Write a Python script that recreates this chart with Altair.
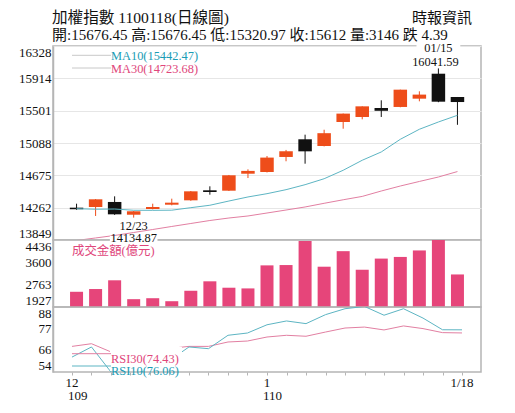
import altair as alt
import pandas as pd

# ---------------- data ----------------
dates = ["12/18", "12/21", "12/22", "12/23", "12/24", "12/25", "12/28", "12/29", "12/30", "12/31",
         "01/04", "01/05", "01/06", "01/07", "01/08", "01/11", "01/12", "01/13", "01/14", "01/15", "01/18"]
opens = [14262, 14271, 14335, 14172, 14245, 14300, 14356, 14484, 14479, 14696,
         14718, 14910, 15136, 15050, 15357, 15421, 15536, 15549, 15655, 15974, 15676.45]
highs = [14313, 14372, 14407, 14220, 14313, 14377, 14475, 14535, 14680, 14752,
         14922, 15000, 15195, 15258, 15465, 15557, 15634, 15770, 15749, 16041.59, 15676.45]
lows = [14235, 14156, 14170, 14134.87, 14240, 14292, 14350, 14428, 14475, 14641,
        14712, 14855, 14824, 15045, 15271, 15391, 15421, 15545, 15621, 15610, 15320.97]
closes = [14242, 14369, 14177, 14216, 14271, 14326, 14471, 14462, 14676, 14732,
          14902, 14983, 14982, 15214, 15464, 15557, 15500, 15770, 15707, 15616.39, 15612]
volumes = [2497, 2600, 2927, 2220, 2256, 2144, 2535, 2889, 2649, 2623,
           3486, 3498, 4398, 3436, 4018, 3322, 3740, 3802, 4045, 4436, 3146]
ma10 = [14249, 14242, 14245, 14229, 14228, 14230, 14262, 14293, 14347, 14399,
        14441, 14492, 14556, 14632, 14740, 14868, 14974, 15136, 15264, 15357, 15442.47]
ma30 = [13843, 13875, 13907, 13945, 13983, 14022, 14060, 14098, 14130, 14156,
        14194, 14232, 14271, 14318, 14363, 14406, 14475, 14539, 14597, 14654, 14723.68]
rsi10 = [61.8, 67.1, 54.0, 52.0, 56.0, 60.0, 67.1, 66.2, 73.2, 74.4,
         78.7, 80.7, 79.3, 84.0, 87.1, 88.3, 83.7, 87.1, 82.2, 76.1, 76.06]
rsi30 = [67.4, 68.8, 64.5, 64.0, 65.5, 66.3, 67.4, 67.4, 69.7, 70.2,
         72.3, 73.2, 72.7, 74.9, 77.0, 77.5, 76.0, 78.1, 76.7, 74.6, 74.43]

price_ticks = [13849, 14262, 14675, 15088, 15501, 15914, 16328]
vol_ticks = [1927, 2763, 3600, 4436]
rsi_ticks = [54, 66, 77, 88]

tick_idx = [0, 10, 20]
tick_line1 = ["12", "1", "1/18"]
tick_line2 = ["109", "110", ""]

title_text = "加權指數 1100118(日線圖)"
subtitle_text = "開:15676.45 高:15676.45 低:15320.97 收:15612 量:3146 跌 4.39"
source_text = "時報資訊"
vol_label = "成交金額(億元)"

# ---------------- styling ----------------
FONT = "'Liberation Serif', 'Times New Roman', 'Noto Sans CJK TC', serif"
UP = "#ee4d1a"
DOWN = "#111111"
VOL = "#e6457a"
TEAL_L = "#5db5c3"
PINK_L = "#e27fa2"
TEAL_T = "#1a9cb5"
PINK_T = "#e0467b"
BORDER = "#b5b5b5"
GRID = "#e6e6e6"
SAMPLE = "#c8c8c8"
TXT = "#111111"
FS = 12.4

W = 428
H1, H2, H3 = 194, 67, 65
n = len(dates)

df = pd.DataFrame({
    "i": list(range(n)), "date": dates, "open": opens, "high": highs, "low": lows,
    "close": closes, "vol": volumes, "ma10": ma10, "ma30": ma30,
    "rsi10": rsi10, "rsi30": rsi30,
})
df["dir"] = ["up" if c >= o else "down" for o, c in zip(opens, closes)]

xs = alt.Scale(domain=[-0.974, n - 1 + 0.974], nice=False, zero=False)
xenc = alt.X("i:Q", scale=xs, axis=None)
color = alt.Color("dir:N", scale=alt.Scale(domain=["up", "down"], range=[UP, DOWN]), legend=None)


def yaxis(vals, grid=False):
    return alt.Axis(values=vals, format="d", grid=grid, gridColor=GRID, gridWidth=1, ticks=False,
                    labelFlush=True, labelPadding=2, domainColor=BORDER, domainWidth=1.5,
                    title=None, labelFontSize=13, labelColor=TXT, labelFont=FONT)


def txt(text, x, y, size=13, col=TXT, align="left"):
    return alt.Chart(pd.DataFrame({"t": [text]})).mark_text(
        align=align, baseline="alphabetic", fontSize=size, color=col, font=FONT
    ).encode(text="t:N", x=alt.value(x), y=alt.value(y))


def sample(y, col):
    return alt.Chart(pd.DataFrame({"k": [0]})).mark_rule(color=col, strokeWidth=1).encode(
        x=alt.value(19), x2=alt.value(58), y=alt.value(y))


# ---------------- price panel ----------------
pscale = alt.Scale(domain=[price_ticks[0], price_ticks[-1]], nice=False, zero=False)
pax = yaxis(price_ticks, grid=True)
base = alt.Chart(df).encode(x=xenc)

wick = base.mark_rule(strokeWidth=1).encode(
    y=alt.Y("low:Q", scale=pscale, axis=pax), y2="high:Q", color=color)
body = base.mark_bar(size=13.5).encode(
    y=alt.Y("open:Q", scale=pscale, axis=pax), y2="close:Q", color=color)
l10 = base.mark_line(color=TEAL_L, strokeWidth=1, clip=True).encode(
    y=alt.Y("ma10:Q", scale=pscale, axis=pax))
l30 = base.mark_line(color=PINK_L, strokeWidth=1, clip=True).encode(
    y=alt.Y("ma30:Q", scale=pscale, axis=pax))

ihi = max(range(n), key=lambda k: highs[k])
hi_df = pd.DataFrame({"i": [ihi], "y": [highs[ihi]], "d": [dates[ihi]],
                      "v": [f"{highs[ihi]:.2f}"]})
hi_df["x0"] = hi_df["i"] - 1.15
hi_df["x1"] = hi_df["i"] + 1.15
hi_bg = alt.Chart(hi_df).mark_rect(color="white").encode(
    x=alt.X("x0:Q", scale=xs, axis=None), x2="x1:Q", y=alt.value(-4), y2=alt.value(7))
hi_v = alt.Chart(hi_df).mark_text(fontSize=FS, font=FONT, color=TXT, dy=-2, dx=-3,
                                  baseline="alphabetic").encode(
    x=alt.X("i:Q", scale=xs, axis=None), y=alt.Y("y:Q", scale=pscale, axis=pax), text="v:N")
hi_d = alt.Chart(hi_df).mark_text(fontSize=FS, font=FONT, color=TXT, dy=-16.4,
                                  baseline="alphabetic").encode(
    x=alt.X("i:Q", scale=xs, axis=None), y=alt.Y("y:Q", scale=pscale, axis=pax), text="d:N")

price = alt.layer(
    wick, body, l30, l10, hi_bg, hi_v, hi_d,
    sample(9.3, SAMPLE), sample(22, SAMPLE),
    txt(f"MA10({ma10[-1]:.2f})", 58, 13.5, FS, TEAL_T),
    txt(f"MA30({ma30[-1]:.2f})", 58, 26.5, FS, PINK_T),
    txt(title_text, -1, -23.3, 15.6),
    txt(subtitle_text, -1, -6.5, 15),
    txt(source_text, 419, -23.5, 15, TXT, "right"),
).properties(width=W, height=H1)

# ---------------- volume panel ----------------
vscale = alt.Scale(domain=[vol_ticks[0], vol_ticks[-1]], nice=False, zero=False)
vbars = alt.Chart(df).mark_bar(size=13, color=VOL).encode(
    x=xenc, y=alt.Y("vol:Q", scale=vscale, axis=yaxis(vol_ticks)), y2=alt.datum(vol_ticks[0]))

ilo = min(range(n), key=lambda k: lows[k])
lo_df = pd.DataFrame({"i": [ilo], "d": [dates[ilo]], "v": [f"{lows[ilo]:.2f}"]})
lo_df["x0"] = lo_df["i"] - 1.25
lo_df["x1"] = lo_df["i"] + 1.25
lo_bg = alt.Chart(lo_df).mark_rect(color="white").encode(
    x=alt.X("x0:Q", scale=xs, axis=None), x2="x1:Q", y=alt.value(-4), y2=alt.value(3))
lo_d = alt.Chart(lo_df).mark_text(fontSize=FS, font=FONT, color=TXT, baseline="alphabetic").encode(
    x=alt.X("i:Q", scale=xs, axis=None), y=alt.value(-10.5), text="d:N")
lo_v = alt.Chart(lo_df).mark_text(fontSize=FS, font=FONT, color=TXT, baseline="alphabetic").encode(
    x=alt.X("i:Q", scale=xs, axis=None), y=alt.value(2), text="v:N")

volume = alt.layer(
    vbars, lo_bg, lo_d, lo_v, txt(vol_label, 19, 14.8, FS, PINK_T)
).properties(width=W, height=H2)

# ---------------- RSI panel ----------------
rscale = alt.Scale(domain=[rsi_ticks[0], rsi_ticks[-1]], nice=False, zero=False)
rax = yaxis(rsi_ticks)
xax = alt.Axis(values=list(range(n)), labels=False, ticks=True, tickSize=3, tickColor=BORDER,
               domain=False, grid=False, title=None)
rbase = alt.Chart(df).encode(x=alt.X("i:Q", scale=xs, axis=xax))
r30 = rbase.mark_line(color=PINK_L, strokeWidth=1, clip=True).encode(
    y=alt.Y("rsi30:Q", scale=rscale, axis=rax))
r10 = rbase.mark_line(color=TEAL_L, strokeWidth=1, clip=True).encode(
    y=alt.Y("rsi10:Q", scale=rscale, axis=rax))
r_bg = alt.Chart(pd.DataFrame({"k": [0]})).mark_rect(color="white").encode(
    x=alt.value(57), x2=alt.value(129), y=alt.value(40), y2=alt.value(64))

xl_df = pd.DataFrame({"i": tick_idx, "l1": tick_line1, "l2": tick_line2})
xl1 = alt.Chart(xl_df).mark_text(fontSize=13, font=FONT, color=TXT, baseline="alphabetic").encode(
    x=alt.X("i:Q", scale=xs, axis=xax), y=alt.value(80), text="l1:N")
xl2 = alt.Chart(xl_df).mark_text(fontSize=13, font=FONT, color=TXT, baseline="alphabetic",
                                 align="left", dx=-4).encode(
    x=alt.X("i:Q", scale=xs, axis=xax), y=alt.value(93), text="l2:N")

rsi = alt.layer(
    r30, r10, r_bg,
    sample(46.7, PINK_L), sample(59, TEAL_L),
    txt(f"RSI30({rsi30[-1]:.2f})", 58, 55.5, FS, PINK_T),
    txt(f"RSI10({rsi10[-1]:.2f})", 58, 68, FS, TEAL_T),
    xl1, xl2,
).properties(width=W, height=H3)

chart = alt.vconcat(price, volume, rsi, spacing=0, bounds="flush").properties(
    padding={"left": 9, "top": 1, "right": 10, "bottom": 3}
).configure(font=FONT).configure_view(stroke=BORDER, strokeWidth=1.5)

chart.save("out.html", embed_options={"renderer": "svg", "actions": False})
